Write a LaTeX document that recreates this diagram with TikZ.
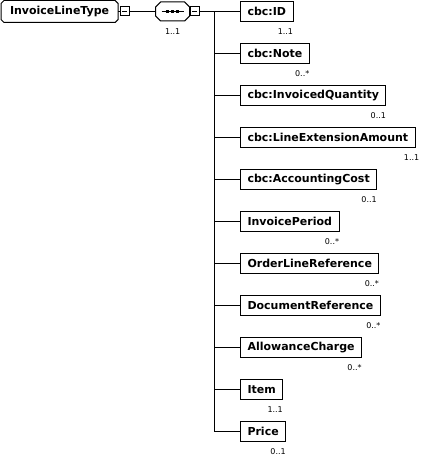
\documentclass[tikz,border=0pt]{standalone}
\usepackage{fontspec}
\setmainfont{DejaVu Sans}
\usetikzlibrary{positioning}

\begin{document}
\begin{tikzpicture}[x=1pt,y=-1pt,line width=1pt,
  elem/.style={draw, anchor=west, minimum height=20pt, inner xsep=7pt, inner ysep=0pt,
    font=\bfseries\fontsize{11}{13}\selectfont},
  rootbox/.style={elem, draw=none, inner xsep=8.5pt, minimum height=21pt},
  minusbox/.style={draw, minimum size=9pt, inner sep=0pt,
    path picture={\draw ([xshift=2pt]path picture bounding box.west) -- ([xshift=-2pt]path picture bounding box.east);}},
  seqbox/.style={minimum width=33pt, minimum height=18pt, inner sep=0pt},
  mult/.style={inner sep=0pt, font=\fontsize{8}{9}\selectfont}
]
  \useasboundingbox (0,0) rectangle (420,465);

  % Root type and sequence
  \node[rootbox] (root) at (1,11.5) {InvoiceLineType};
  \draw ([xshift=3pt]root.north west) -- ([xshift=-3pt]root.north east)
    -- ([yshift=-3pt]root.north east) -- ([yshift=3pt]root.south east)
    -- ([xshift=-3pt]root.south east) -- ([xshift=3pt]root.south west)
    -- ([yshift=3pt]root.south west) -- ([yshift=-3pt]root.north west) -- cycle;
  \node[minusbox, right=1.5pt of root] (rootm) {};
  \node[seqbox, right=26pt of rootm] (seq) {};
  \draw ([xshift=5pt]seq.north west) -- ([xshift=-5pt]seq.north east)
    -- ([yshift=-5pt]seq.north east) -- ([yshift=5pt]seq.south east)
    -- ([xshift=-5pt]seq.south east) -- ([xshift=5pt]seq.south west)
    -- ([yshift=5pt]seq.south west) -- ([yshift=-5pt]seq.north west) -- cycle;
  \draw (seq.center) ++(-11,0) -- ++(22,0);
  \fill (seq.center) ++(-6.5,-1.5) rectangle ++(3,3);
  \fill (seq.center) ++(-1.5,-1.5) rectangle ++(3,3);
  \fill (seq.center) ++(3.5,-1.5) rectangle ++(3,3);
  \node[minusbox, right=0pt of seq] (seqm) {};
  \node[mult, below=7pt of seq] (seqmult) {1..1};
  \coordinate (bus) at (214,11.5);

  % Child elements
  \node[elem] (id) at (240,11.5) {cbc:ID};
  \node[elem] (note) at (240,53.5) {cbc:Note};
  \node[elem] (qty) at (240,95.5) {cbc:InvoicedQuantity};
  \node[elem] (amount) at (240,137.5) {cbc:LineExtensionAmount};
  \node[elem] (cost) at (240,179.5) {cbc:AccountingCost};
  \node[elem] (period) at (240,221.5) {InvoicePeriod};
  \node[elem] (orderref) at (240,263.5) {OrderLineReference};
  \node[elem] (docref) at (240,305.5) {DocumentReference};
  \node[elem] (charge) at (240,347.5) {AllowanceCharge};
  \node[elem] (item) at (240,389.5) {Item};
  \node[elem] (price) at (240,431.5) {Price};

  % Cardinalities
  \node[mult, below left=6pt and 0pt of id.south east] {1..1};
  \node[mult, below left=6pt and 0pt of note.south east] {0..*};
  \node[mult, below left=6pt and 0pt of qty.south east] {0..1};
  \node[mult, below left=6pt and -4pt of amount.south east] {1..1};
  \node[mult, below left=6pt and 0pt of cost.south east] {0..1};
  \node[mult, below left=6pt and 0pt of period.south east] {0..*};
  \node[mult, below left=6pt and 0pt of orderref.south east] {0..*};
  \node[mult, below left=6pt and 0pt of docref.south east] {0..*};
  \node[mult, below left=6pt and 0pt of charge.south east] {0..*};
  \node[mult, below left=6pt and 0pt of item.south east] {1..1};
  \node[mult, below left=6pt and 0pt of price.south east] {0..1};

  % Connectors
  \draw (root) -- (rootm);
  \draw (rootm) -- (seq);
  \draw (seqm) -- (bus) -- (bus |- price.west);
  \draw (bus) -- (id);
  \draw (bus |- note.west) -- (note);
  \draw (bus |- qty.west) -- (qty);
  \draw (bus |- amount.west) -- (amount);
  \draw (bus |- cost.west) -- (cost);
  \draw (bus |- period.west) -- (period);
  \draw (bus |- orderref.west) -- (orderref);
  \draw (bus |- docref.west) -- (docref);
  \draw (bus |- charge.west) -- (charge);
  \draw (bus |- item.west) -- (item);
  \draw (bus |- price.west) -- (price);
\end{tikzpicture}
\end{document}
